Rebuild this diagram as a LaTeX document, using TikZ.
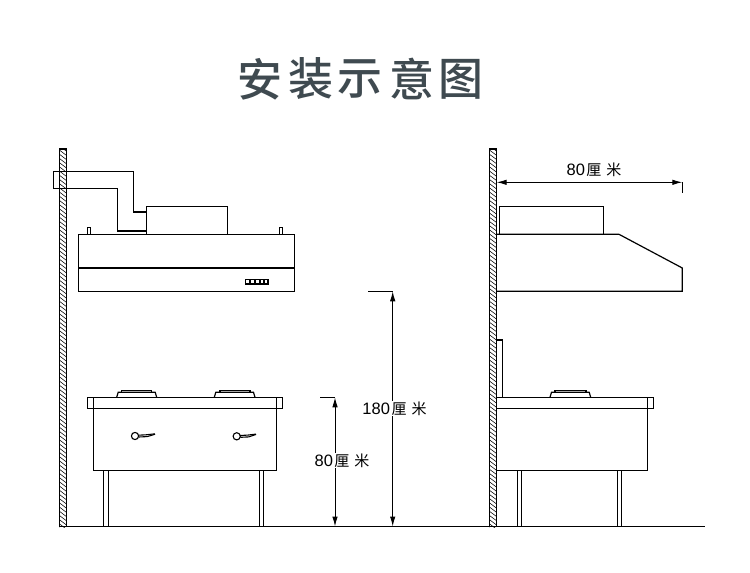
\documentclass[tikz,border=0pt]{standalone}
\usepackage{fontspec}
\setmainfont{Liberation Sans}
\newfontfamily\cjkfont{Noto Sans CJK SC}
\newfontfamily\cjkbold{Noto Sans CJK SC Medium}
\usetikzlibrary{arrows.meta}
\definecolor{titlecol}{HTML}{3F4A50}
\newcommand{\cmlabel}[1]{{\fontsize{16.5}{18}\selectfont #1\kern1.5pt\cjkfont\fontsize{15}{18}\selectfont 厘\kern5pt 米}}
\tikzset{
  x=1pt,y=-1pt,
  line/.style={draw=black,line width=1.2pt},
  thinpart/.style={draw=black,line width=1.1pt},
  hatchline/.style={draw=black,line width=0.55pt},
  dimline/.style={draw=black,line width=1pt,{Latex[length=10pt,width=5.5pt]}-{Latex[length=10pt,width=5.5pt]}},
  dimext/.style={draw=black,line width=1.1pt},
  dimtext/.style={inner sep=1pt,fill=white,text=black},
  titlechar/.style={inner sep=0pt,text=titlecol,font=\cjkbold\fontsize{45}{48}\selectfont},
}
\newcommand{\wall}[2]{%
  \begin{scope}
    \clip (#1,149) rectangle (#2,527);
    \foreach \k in {0,4.2,...,400} {\draw[hatchline] (#1-1,145+\k) -- (#2+1,152+\k);}
  \end{scope}
  \draw[line] (#1,527) -- (#1,149) -- (#2,149) -- (#2,527);
}
\newcommand{\burner}[4]{%
  \draw[line] (#1,397.3) -- (#1+1.5,392.3) -- (#2-1.5,392.3) -- (#2,397.3);
  \draw[line] (#3,392.3) -- (#3,390.2) -- (#4,390.2) -- (#4,392.3);
}
\newcommand{\knob}[3]{%
  \draw[thinpart] (#1,#2) circle (3.6);
  \draw[thinpart] (#1+3.6,#2+1) -- (#1+12,#2+0.6) .. controls (#1+15,#2-0.2) .. (#3,#2-1.8);
  \draw[thinpart] (#1+3.4,#2-0.8) -- (#1+11,#2-1.2) -- (#3,#2-2.2);
}
\begin{document}
\begin{tikzpicture}
\useasboundingbox[fill=white] (0,0) rectangle (750,573);

% title
\node[titlechar] (t1) at (259.5,79) {安};
\node[titlechar] (t2) at (311,79) {装};
\node[titlechar] (t3) at (360,79) {示};
\node[titlechar] (t4) at (412,79) {意};
\node[titlechar] (t5) at (461,79) {图};

% walls and floor
\wall{59.3}{66.5}
\wall{489.3}{496.7}
\draw[line] (59,526.5) -- (705,526.5);

% left view: duct
\draw[line] (133.3,171.3) -- (53.3,171.3) -- (53.3,188.3) -- (117.3,188.3) -- (117.3,231) -- (146.3,231);
\draw[line] (133.3,171.3) -- (133.3,212) -- (146.3,212);
% left view: fan box and hood
\draw[line] (146.3,234.3) rectangle (227.3,206.3);
\draw[line] (78.3,234.3) rectangle (294.7,291.3);
\draw[line] (78.3,268) -- (294.7,268);
\draw[thinpart] (87.3,234.3) rectangle (90.7,227.3);
\draw[thinpart] (279.3,234.3) rectangle (282.7,227.3);
\draw[thinpart] (245.3,279.3) rectangle (268,284);
\foreach \px in {249.5,254.5,259.5,264} {\fill[black] (\px-1,280) rectangle (\px+1,283.4);}

% left view: stove
\draw[line] (87.3,397.3) rectangle (282.7,408.7);
\draw[line] (93.3,397.3) -- (93.3,470.3) -- (276.7,470.3) -- (276.7,397.3);
\draw[line] (103.3,470.3) -- (103.3,526.5);
\draw[line] (108.7,470.3) -- (108.7,526.5);
\draw[line] (259.3,470.3) -- (259.3,526.5);
\draw[line] (263.7,470.3) -- (263.7,526.5);
\burner{116.7}{156.7}{121.7}{151.7}
\burner{214.3}{255}{220}{250}
\knob{135}{436}{155}
\knob{236.7}{436.3}{256}

% right view: fan box and hood
\draw[line] (499.3,234.3) rectangle (603.3,206.3);
\draw[line] (496.7,234.3) -- (619,234.3) -- (682.3,268) -- (682.3,291.3) -- (496.7,291.3);

% right view: stove
\draw[line] (496.7,340) -- (502.7,340) -- (502.7,397.3);
\draw[line] (496.7,397.3) -- (653.7,397.3) -- (653.7,408.7) -- (496.7,408.7);
\draw[line] (647.7,397.3) -- (647.7,470.3) -- (496.7,470.3);
\draw[line] (517.3,470.3) -- (517.3,526.5);
\draw[line] (521.7,470.3) -- (521.7,526.5);
\draw[line] (617.3,470.3) -- (617.3,526.5);
\draw[line] (621.7,470.3) -- (621.7,526.5);
\burner{550}{590.7}{555}{586}

% dimensions
\coordinate (d80t) at (335,397.3);
\coordinate (d80b) at (335,526.5);
\coordinate (d80e) at (320,397.3);
\coordinate (d180t) at (392.7,291.3);
\coordinate (d180b) at (392.7,526.5);
\coordinate (d180e) at (368.3,291.3);
\coordinate (dwl) at (496.7,182.3);
\coordinate (dwr) at (682.3,182.3);
\coordinate (dwe) at (682.3,193.3);
\draw[dimline] (d80t) -- (d80b);
\draw[dimext] (d80e) -- (d80t);
\draw[dimline] (d180t) -- (d180b);
\draw[dimext] (d180e) -- (d180t);
\draw[dimline] (dwl) -- (dwr);
\draw[dimext] (dwr) -- (dwe);
\node[dimtext] (l80) at (342,460.5) {\cmlabel{80}};
\node[dimtext] (l180) at (394.5,408.5) {\cmlabel{180}};
\node[inner sep=0pt] (lw) at (594,170) {\cmlabel{80}};
\end{tikzpicture}
\end{document}
